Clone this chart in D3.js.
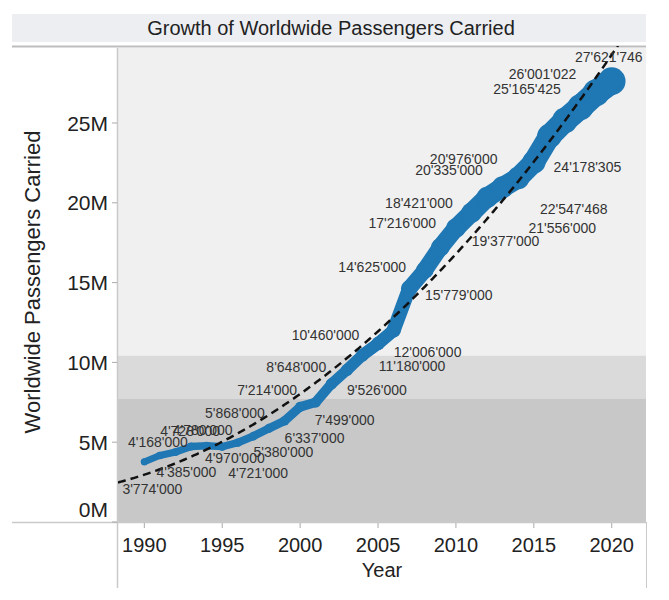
<!DOCTYPE html>
<html>
<head>
<meta charset="utf-8">
<script src="https://cdn.jsdelivr.net/npm/d3@7"></script>
<style>
  html, body { margin: 0; padding: 0; background: #ffffff; }
  svg { display: block; font-family: "Liberation Sans", Arial, sans-serif; }
</style>
</head>
<body>
<svg id="chart" width="669" height="600"></svg>
<script>
// ---- Data ----
const years = [1990, 1991, 1992, 1993, 1994, 1995, 1996, 1997, 1998, 1999,
               2000, 2001, 2002, 2003, 2004, 2005, 2006, 2007, 2008, 2009,
               2010, 2011, 2012, 2013, 2014, 2015, 2016, 2017, 2018, 2019, 2020];
const passengers = [3774000, 4168000, 4385000, 4728000, 4780000, 4721000, 4970000, 5380000, 5868000, 6337000,
                    7214000, 7499000, 8648000, 9526000, 10460000, 11180000, 12006000, 14625000, 15779000, 17216000,
                    18421000, 19377000, 20335000, 20976000, 21556000, 22547468, 24178305, 25165425, 26001022, 26900000, 27621746];
// which points carry a visible value label (2019 label is hidden in the original)
const showLabel = [1,1,1,1,1,1,1,1,1,1, 1,1,1,1,1,1,1,1,1,1, 1,1,1,1,1,1,1,1,1,0,1];
// label offsets from their point, in pixels [dx, dy]
const labelOffsets = [[8,27],[-2,-13],[11,20],[-1,-16],[-4,-16],[36,26],[-3,15],[30,16],[-34,-15],[30,17],
                      [-33,-17],[29,18],[-35,-17],[30,20],[-37,-20],[34,22],[34,22],[-37,-22],[34,25],[-38,-24],
                      [-37,-25],[34,28],[-38,-27],[-39,-28],[44,50],[40,47],[38,31],[-38,-31],[-38,-33],[0,0],[-3,-24]];
const yTicks = [0, 5000000, 10000000, 15000000, 20000000, 25000000];
const xTicks = [1990, 1995, 2000, 2005, 2010, 2015, 2020];
const bandBreaks = [7750000, 10440000];
const bandColors = ["#c8c8c8", "#dadada", "#f0f0f0"];

const titleText = "Growth of Worldwide Passengers Carried";
const xTitle = "Year";
const yTitle = "Worldwide Passengers Carried";

// ---- Layout ----
const plot = { left: 118, right: 646, top: 48, bottom: 522 };
const svg = d3.select("#chart");

const x = d3.scaleLinear().domain([1988.31, 2022.2]).range([plot.left, plot.right]);
const y = d3.scaleLinear().domain([0, 29700000]).range([plot.bottom, plot.top]);
const size = d3.scaleLinear().domain([d3.min(passengers), d3.max(passengers)]).range([3.6, 13.8]);

// Title band
svg.append("rect").attr("x", 12).attr("y", 14).attr("width", 634).attr("height", 28).attr("fill", "#eceef2");
svg.append("text").attr("x", 331).attr("y", 28).attr("text-anchor", "middle")
  .attr("dominant-baseline", "central").attr("font-size", 20).attr("fill", "#222").text(titleText);
svg.append("line").attr("x1", 12).attr("x2", 646).attr("y1", 46.5).attr("y2", 46.5)
  .attr("stroke", "#bdbdbd").attr("stroke-width", 2);

// Background bands
const bandEdges = [0, ...bandBreaks, y.domain()[1]];
for (let i = 0; i < bandColors.length; i++) {
  svg.append("rect")
    .attr("x", plot.left).attr("width", plot.right - plot.left)
    .attr("y", y(bandEdges[i + 1])).attr("height", y(bandEdges[i]) - y(bandEdges[i + 1]))
    .attr("fill", bandColors[i]);
}

// Axis lines
const axisColor = "#c9c9c9";
svg.append("line").attr("x1", 12).attr("x2", plot.right).attr("y1", plot.bottom + 0.5).attr("y2", plot.bottom + 0.5)
  .attr("stroke", axisColor).attr("stroke-width", 1.5);
svg.append("line").attr("x1", plot.left - 0.5).attr("x2", plot.left - 0.5).attr("y1", plot.top).attr("y2", 588)
  .attr("stroke", axisColor).attr("stroke-width", 1.5);
svg.append("line").attr("x1", plot.right + 0.5).attr("x2", plot.right + 0.5).attr("y1", plot.bottom).attr("y2", 588)
  .attr("stroke", axisColor).attr("stroke-width", 1);

// Y ticks
const yt = svg.append("g");
yTicks.forEach(v => {
  const yy = y(v);
  yt.append("line").attr("x1", plot.left - 6).attr("x2", plot.left - 1).attr("y1", yy).attr("y2", yy)
    .attr("stroke", "#aaa").attr("stroke-width", 1);
  yt.append("text").attr("x", 108).attr("y", Math.min(yy, plot.bottom - 13))
    .attr("text-anchor", "end").attr("dominant-baseline", "central")
    .attr("font-size", 21).attr("fill", "#222").text(d3.format("d")(v / 1e6) + "M");
});

// X ticks
const xt = svg.append("g");
xTicks.forEach(v => {
  const xx = x(v);
  xt.append("line").attr("x1", xx).attr("x2", xx).attr("y1", plot.bottom + 1).attr("y2", plot.bottom + 6)
    .attr("stroke", "#aaa").attr("stroke-width", 1);
  xt.append("text").attr("x", xx).attr("y", 545)
    .attr("text-anchor", "middle").attr("dominant-baseline", "central")
    .attr("font-size", 20).attr("fill", "#222").text(v);
});

// Axis titles
svg.append("text").attr("x", (plot.left + plot.right) / 2).attr("y", 570)
  .attr("text-anchor", "middle").attr("dominant-baseline", "central")
  .attr("font-size", 20).attr("fill", "#222").text(xTitle);
svg.append("text").attr("transform", `translate(32,${(plot.top + plot.bottom) / 2 - 3}) rotate(-90)`)
  .attr("text-anchor", "middle").attr("dominant-baseline", "central")
  .attr("font-size", 22).attr("fill", "#222").text(yTitle);

// Clip
svg.append("clipPath").attr("id", "plotclip").append("rect")
  .attr("x", plot.left).attr("y", plot.top - 2).attr("width", plot.right - plot.left).attr("height", plot.bottom - plot.top + 2);

// Thick size-encoded line: each segment stroked with round caps at its end point's size
const pts = years.map((yr, i) => ({ x: x(yr), y: y(passengers[i]), r: size(passengers[i]) }));
const lineG = svg.append("g").attr("clip-path", "url(#plotclip)");
const blue = "#1f77b4";
for (let i = 0; i < pts.length - 1; i++) {
  const a = pts[i], b = pts[i + 1];
  lineG.append("line")
    .attr("x1", a.x).attr("y1", a.y).attr("x2", b.x).attr("y2", b.y)
    .attr("stroke", blue).attr("stroke-linecap", "round")
    .attr("stroke-width", 2 * (a.r + b.r) / 2 * 0.92);
}
lineG.selectAll("circle.pt").data(pts).enter().append("circle")
  .attr("cx", d => d.x).attr("cy", d => d.y).attr("r", d => d.r).attr("fill", blue);

// Polynomial (degree 2) least-squares trend line computed from the data
const t0 = 2005;
let S = { n: 0, t: 0, t2: 0, t3: 0, t4: 0, y: 0, ty: 0, t2y: 0 };
years.forEach((yr, i) => {
  const t = yr - t0, v = passengers[i];
  S.n++; S.t += t; S.t2 += t * t; S.t3 += t ** 3; S.t4 += t ** 4;
  S.y += v; S.ty += t * v; S.t2y += t * t * v;
});
function solve3(A, B) {
  const M = A.map((row, i) => [...row, B[i]]);
  for (let c = 0; c < 3; c++) {
    let p = c;
    for (let r = c + 1; r < 3; r++) if (Math.abs(M[r][c]) > Math.abs(M[p][c])) p = r;
    [M[c], M[p]] = [M[p], M[c]];
    for (let r = 0; r < 3; r++) {
      if (r === c) continue;
      const f = M[r][c] / M[c][c];
      for (let k = c; k < 4; k++) M[r][k] -= f * M[c][k];
    }
  }
  return [M[0][3] / M[0][0], M[1][3] / M[1][1], M[2][3] / M[2][2]];
}
const [ca, cb, cc] = solve3([[S.n, S.t, S.t2], [S.t, S.t2, S.t3], [S.t2, S.t3, S.t4]], [S.y, S.ty, S.t2y]);
const trendYears = d3.range(x.domain()[0], x.domain()[1] + 0.01, 0.1);
const trendLine = d3.line().x(d => x(d)).y(d => { const t = d - t0; return y(ca + cb * t + cc * t * t); });
svg.append("path").attr("clip-path", "url(#plotclip)")
  .attr("d", trendLine(trendYears)).attr("fill", "none")
  .attr("stroke", "#111").attr("stroke-width", 2.5).attr("stroke-dasharray", "8,5");

// Value labels
const fmt = v => d3.format(",")(v).replace(/,/g, "'");
const lab = svg.append("g");
years.forEach((yr, i) => {
  if (!showLabel[i]) return;
  lab.append("text")
    .attr("x", x(yr) + labelOffsets[i][0]).attr("y", y(passengers[i]) + labelOffsets[i][1])
    .attr("text-anchor", "middle").attr("dominant-baseline", "central")
    .attr("font-size", 14).attr("fill", "#333").text(fmt(passengers[i]));
});
</script>
</body>
</html>
